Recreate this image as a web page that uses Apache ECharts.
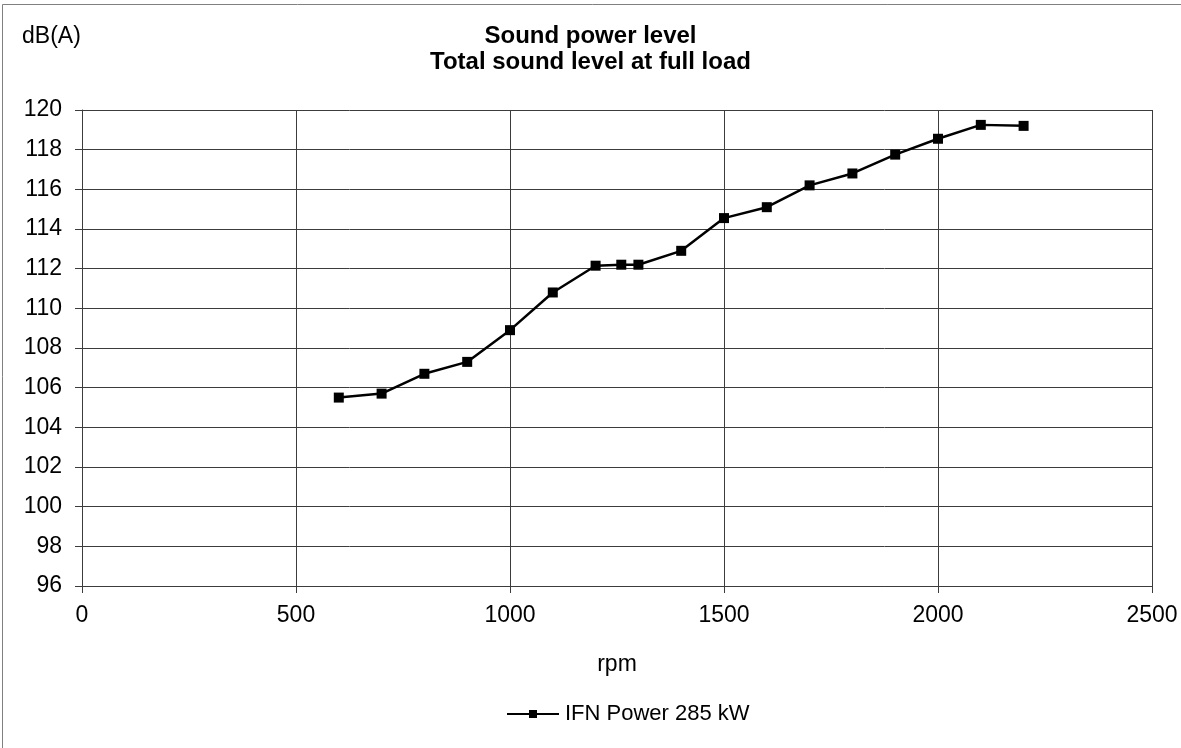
<!DOCTYPE html>
<html>
<head>
<meta charset="utf-8">
<script src="https://cdn.jsdelivr.net/npm/echarts@6/dist/echarts.min.js"></script>
<style>
html,body{margin:0;padding:0;background:#fff;}
#chart{width:1181px;height:748px;}
</style>
</head>
<body>
<div id="chart"></div>
<script>
const titleLines = ['Sound power level', 'Total sound level at full load'];
const yUnit = 'dB(A)';
const xName = 'rpm';
const seriesName = 'IFN Power 285 kW';
const rpm = [600, 700, 800, 900, 1000, 1100, 1200, 1260, 1300, 1400, 1500, 1600, 1700, 1800, 1900, 2000, 2100, 2200];
const dbA = [105.5, 105.7, 106.7, 107.3, 108.9, 110.8, 112.15, 112.2, 112.2, 112.9, 114.55, 115.1, 116.2, 116.8, 117.75, 118.55, 119.25, 119.2];

const FONT = 'Arial, "Liberation Sans", sans-serif';
const GRID = '#3c3c3c';
const chart = echarts.init(document.getElementById('chart'), null, {renderer: 'canvas'});
chart.setOption({
  animation: false,
  backgroundColor: '#fff',
  textStyle: {fontFamily: FONT, color: '#000'},
  title: {
    text: titleLines.join('\n'),
    left: 'center',
    top: 18,
    textStyle: {fontFamily: FONT, fontSize: 24, fontWeight: 'bold', color: '#000', lineHeight: 26}
  },
  graphic: [
    {type: 'rect', shape: {x: 2.5, y: 4.5, width: 1190, height: 760}, style: {fill: 'none', stroke: '#808080', lineWidth: 1}, z: -1},
    {type: 'text', left: 22, top: 25, style: {text: yUnit, font: '23px Arial, "Liberation Sans", sans-serif', fill: '#000'}}
  ],
  grid: {left: 82, right: 29, top: 110, bottom: 162, show: false},
  legend: {
    left: 506,
    top: 703,
    padding: 0,
    itemWidth: 52,
    itemHeight: 10,
    itemGap: 6,
    textStyle: {fontFamily: FONT, fontSize: 22, color: '#000', padding: [0, 0, 0, 1]},
    data: [seriesName]
  },
  xAxis: {
    type: 'value',
    min: 0, max: 2500, interval: 500,
    name: xName,
    nameLocation: 'middle',
    nameGap: 67,
    nameTextStyle: {fontFamily: FONT, fontSize: 23, color: '#000'},
    axisLine: {show: true, lineStyle: {color: GRID, width: 1}},
    axisTick: {show: true, inside: false, length: 7, lineStyle: {color: GRID}},
    axisLabel: {fontFamily: FONT, fontSize: 23, color: '#000', margin: 18, formatter: v => String(v)},
    splitLine: {show: true, lineStyle: {color: GRID, width: 1}}
  },
  yAxis: {
    type: 'value',
    min: 96, max: 120, interval: 2,
    axisLine: {show: true, lineStyle: {color: GRID, width: 1}},
    axisTick: {show: true, inside: false, length: 7, lineStyle: {color: GRID}},
    axisLabel: {fontFamily: FONT, fontSize: 23, color: '#000', margin: 20, formatter: v => String(v)},
    splitLine: {show: true, lineStyle: {color: GRID, width: 1}}
  },
  series: [{
    name: seriesName,
    type: 'line',
    data: rpm.map((r, i) => [r, dbA[i]]),
    symbol: 'rect',
    symbolSize: 10,
    showAllSymbol: true,
    lineStyle: {color: '#000', width: 2.5},
    itemStyle: {color: '#000', borderWidth: 0}
  }]
});
</script>
</body>
</html>
